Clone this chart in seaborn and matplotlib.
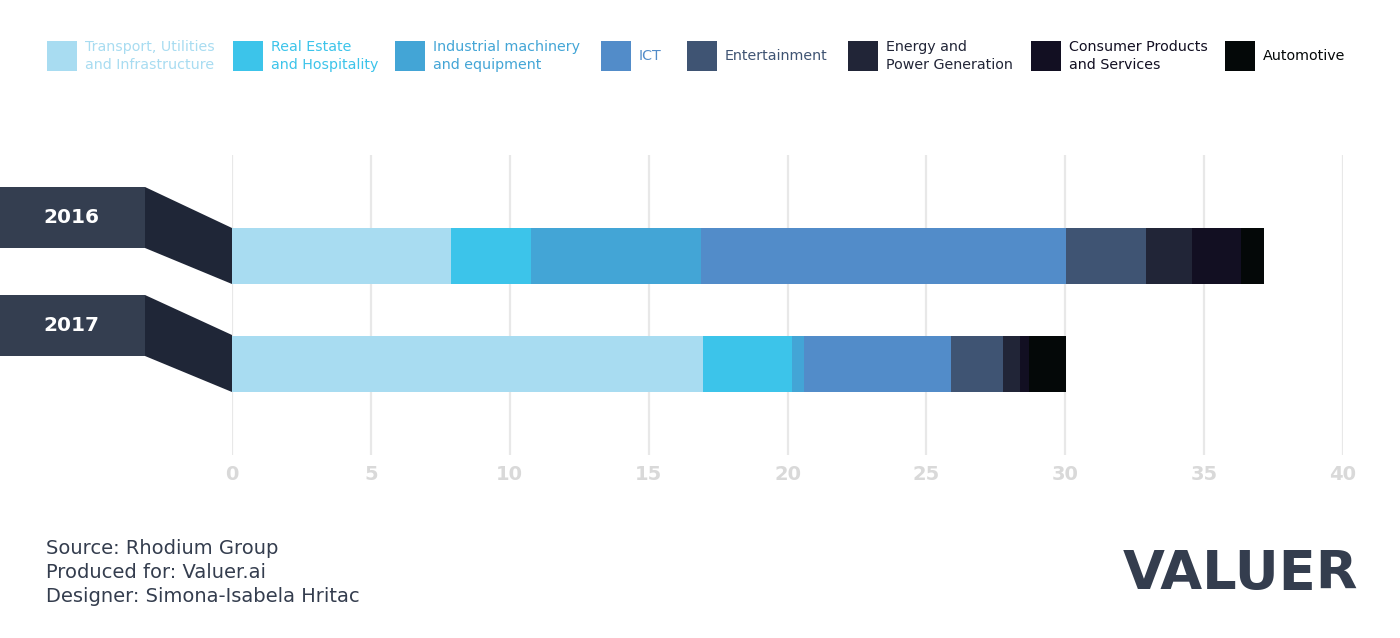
# plot.py
# stacked horizontal bar chart of chinese investment by sector, 2016 vs 2017

import numpy as np
import pandas as pd
from matplotlib import pyplot as plt
from matplotlib.patches import Rectangle, Polygon
import seaborn as sns

# data
years = ['2016', '2017']
sectors = ['Transport, Utilities\nand Infrastructure', 'Real Estate\nand Hospitality',
           'Industrial machinery\nand equipment', 'ICT', 'Entertainment',
           'Energy and\nPower Generation', 'Consumer Products\nand Services', 'Automotive']
values_2016 = [7.9, 2.86, 6.11, 13.15, 2.89, 1.67, 1.75, 0.84]
values_2017 = [16.97, 3.19, 0.42, 5.30, 1.87, 0.63, 0.32, 1.32]
ticks = [0, 5, 10, 15, 20, 25, 30, 35, 40]

colors = ['#a8dcf1', '#3cc4ea', '#43a5d6', '#528cc9', '#3f5473', '#212537', '#120f22', '#040808']

W, H = 1400, 638

def fx(x):
    return x / W

def fy(y):
    return 1 - y / H

sns.set_style("white")
plt.rcParams['font.family'] = ['DejaVu Sans']

fig = plt.figure(figsize=(W / 100, H / 100), dpi=100)
ax = fig.add_axes([fx(232), fy(455), (1343 - 232) / W, 300 / H])

# build cumulative table and draw layers from the outermost inwards
data = pd.DataFrame({'2016': values_2016, '2017': values_2017}, index=sectors)
cum = data.cumsum()

for i in reversed(range(len(sectors))):
    layer = pd.DataFrame({'year': years, 'value': cum.iloc[i][years].values})
    sns.barplot(data=layer, x='value', y='year', orient='h', color=colors[i],
                saturation=1, width=0.52, linewidth=0, ax=ax)

ax.set_xlim(0, 40)
ax.set_ylim(1.843, -0.935)
ax.set_xticks(ticks)
ax.set_xticklabels([str(t) for t in ticks], fontsize=14, fontweight='bold', color='#d9d9d9')
ax.tick_params(axis='x', length=0, pad=7)
ax.set_yticks([])
ax.set(xlabel='', ylabel='')
ax.grid(axis='x', color='#e8e8e8', linewidth=1.6)
ax.set_axisbelow(True)
for s in ax.spines.values():
    s.set_visible(False)

# year labels with connector shapes
label_boxes = [(187, 248, 228, 284), (295, 356, 335, 392)]
for year, (top, bottom, btop, bbottom) in zip(years, label_boxes):
    fig.patches.append(Rectangle((0, fy(bottom)), fx(145), (bottom - top) / H,
                                 transform=fig.transFigure, color='#343e50', lw=0))
    fig.patches.append(Polygon([(fx(145), fy(top)), (fx(232), fy(btop)),
                                (fx(232), fy(bbottom)), (fx(145), fy(bottom))],
                               closed=True, transform=fig.transFigure, color='#1f2637', lw=0))
    fig.text(fx(71), fy((top + bottom) / 2), year, ha='center', va='center',
             fontsize=14.5, fontweight='bold', color='white')

# legend, laid out by hand
legend_x = [47, 233, 395, 601, 687, 848, 1031, 1225]
for x, label, c in zip(legend_x, sectors, colors):
    fig.patches.append(Rectangle((fx(x), fy(71)), 30 / W, 30 / H,
                                 transform=fig.transFigure, color=c, lw=0))
    fig.text(fx(x + 38), fy(56), label, ha='left', va='center', fontsize=10.3,
             color=c, linespacing=1.3)

# footer
footer = ['Source: Rhodium Group', 'Produced for: Valuer.ai', 'Designer: Simona-Isabela Hritac']
for i, line in enumerate(footer):
    fig.text(fx(46), fy(549 + 24 * i), line, ha='left', va='center', fontsize=14,
             color='#343d4e')

fig.text(fx(1358), fy(574), 'VALUER', ha='right', va='center', fontsize=39,
         fontweight='heavy', color='#343d4e')

plt.savefig('out.png', dpi=100)
